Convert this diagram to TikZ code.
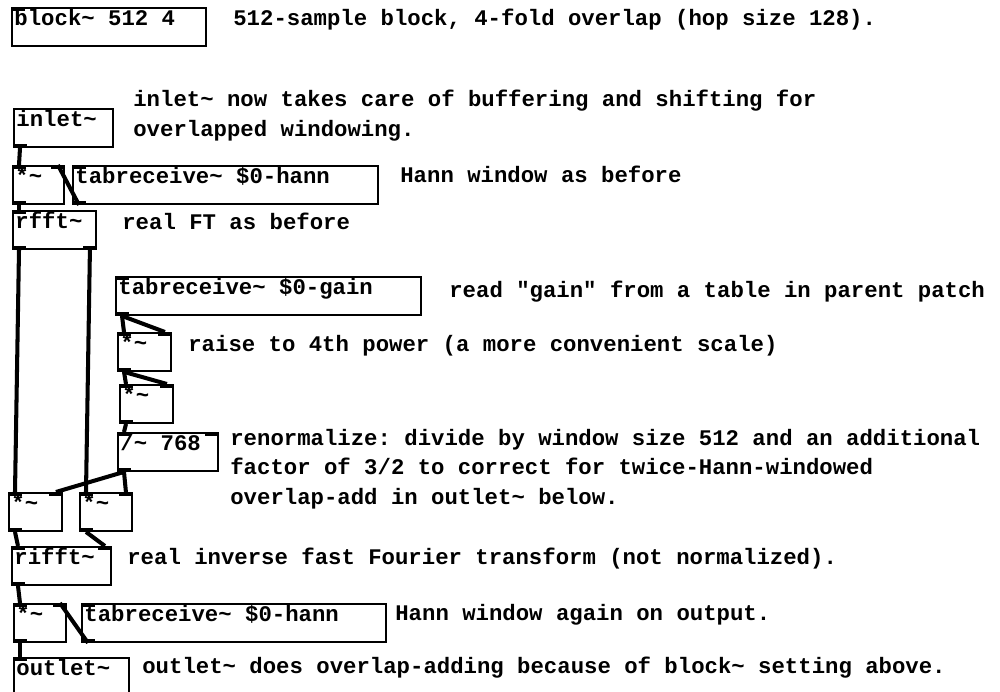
\documentclass[tikz,border=0pt]{standalone}
\usepackage{fontspec}
\newfontfamily\pdmono{Liberation Mono}
\newcommand{\pdfont}{\pdmono\bfseries\fontsize{12.7pt}{17.07pt}\selectfont\frenchspacing}

\begin{document}
\begin{tikzpicture}[x=0.02cm, y=-0.02cm,
        every node/.style={inner sep=0pt, font=\pdfont},
        obj/.style={draw, line width=1.1pt, anchor=north west, inner xsep=0.05cm, text width=#1, align=flush left, text height=0.36cm, text depth=0.40cm},
        note/.style={anchor=base west, text width=18cm, align=flush left},
        wire/.style={line width=2.3pt},
        iolet/.style={fill=black}
    ]
        \path[use as bounding box, fill=white] (0,0) rectangle (1000,692);
        \clip (0,0) rectangle (1000,692);

        \node[obj=3.78cm] (blk) at (11,7) {block\textasciitilde{} 512 4};
        \node[obj=1.88cm] (inl) at (13,108) {inlet\textasciitilde};
        \node[obj=0.92cm] (mulA) at (12,165) {*\textasciitilde};
        \node[obj=6.0cm] (hannA) at (72,165) {tabreceive\textasciitilde{} \$0-hann};
        \node[obj=1.56cm] (fft) at (12,210) {rfft\textasciitilde};
        \node[obj=6.0cm] (gain) at (115,276) {tabreceive\textasciitilde{} \$0-gain};
        \node[obj=0.96cm] (powA) at (117,332) {*\textasciitilde};
        \node[obj=0.96cm] (powB) at (119,384) {*\textasciitilde};
        \node[obj=1.9cm] (norm) at (117,432) {/\textasciitilde{} 768};
        \node[obj=0.96cm] (re) at (8,492) {*\textasciitilde};
        \node[obj=0.94cm] (im) at (79,492) {*\textasciitilde};
        \node[obj=1.88cm] (ifft) at (11,546) {rifft\textasciitilde};
        \node[obj=0.94cm] (mulB) at (13,603) {*\textasciitilde};
        \node[obj=5.98cm] (hannB) at (81,603) {tabreceive\textasciitilde{} \$0-hann};
        \node[obj=2.2cm] (out) at (13,657) {outlet\textasciitilde};

        \foreach \n in {blk,mulA,hannA,fft,gain,powA,powB,norm,re,im,ifft,mulB,hannB,out}
            \fill[iolet] (\n.north west) rectangle ++(14,4);
        \foreach \n in {inl,mulA,hannA,fft,gain,powA,powB,norm,re,im,ifft,mulB,hannB}
            \fill[iolet] (\n.south west) rectangle ++(14,-4);
        \foreach \n in {mulA,powA,powB,norm,re,im,ifft,mulB}
            \fill[iolet] (\n.north east) rectangle ++(-14,4);
        \fill[iolet] (fft.south east) rectangle ++(-14,-4);

        \draw[wire] ([xshift=0.14cm]inl.south west) -- ([xshift=0.14cm]mulA.north west);
        \draw[wire] ([xshift=0.14cm]hannA.south west) -- ([xshift=-0.14cm]mulA.north east);
        \draw[wire] ([xshift=0.14cm]mulA.south west) -- ([xshift=0.14cm]fft.north west);
        \draw[wire] ([xshift=0.14cm]fft.south west) -- ([xshift=0.14cm]re.north west);
        \draw[wire] ([xshift=-0.14cm]fft.south east) -- ([xshift=0.14cm]im.north west);
        \draw[wire] ([xshift=0.14cm]gain.south west) -- ([xshift=0.14cm]powA.north west);
        \draw[wire] ([xshift=0.14cm]gain.south west) -- ([xshift=-0.14cm]powA.north east);
        \draw[wire] ([xshift=0.14cm]powA.south west) -- ([xshift=0.14cm]powB.north west);
        \draw[wire] ([xshift=0.14cm]powA.south west) -- ([xshift=-0.14cm]powB.north east);
        \draw[wire] ([xshift=0.14cm]powB.south west) -- ([xshift=0.14cm]norm.north west);
        \draw[wire] ([xshift=0.14cm]norm.south west) -- ([xshift=-0.14cm]re.north east);
        \draw[wire] ([xshift=0.14cm]norm.south west) -- ([xshift=-0.14cm]im.north east);
        \draw[wire] ([xshift=0.14cm]re.south west) -- ([xshift=0.14cm]ifft.north west);
        \draw[wire] ([xshift=0.14cm]im.south west) -- ([xshift=-0.14cm]ifft.north east);
        \draw[wire] ([xshift=0.14cm]ifft.south west) -- ([xshift=0.14cm]mulB.north west);
        \draw[wire] ([xshift=0.14cm]hannB.south west) -- ([xshift=-0.14cm]mulB.north east);
        \draw[wire] ([xshift=0.14cm]mulB.south west) -- ([xshift=0.14cm]out.north west);

        \node[note] (blkNote) at (233,26) {512-sample block, 4-fold overlap (hop size 128).};
        \node[note] (inlNote) at (133,107) {inlet\textasciitilde{} now takes care of buffering and shifting for\\overlapped windowing.};
        \node[note] (hannNote) at (400,183) {Hann window as before};
        \node[note] (fftNote) at (122,230) {real FT as before};
        \node[note] (gainNote) at (449,297) {read "gain" from a table in parent patch};
        \node[note] (powNote) at (188,352) {raise to 4th power (a more convenient scale)};
        \node[note] (normNote) at (230,445) {renormalize: divide by window size 512 and an additional\\factor of 3/2 to correct for twice-Hann-windowed\\overlap-add in outlet\textasciitilde{} below.};
        \node[note] (ifftNote) at (127,564) {real inverse fast Fourier transform (not normalized).};
        \node[note] (outHannNote) at (395,620) {Hann window again on output.};
        \node[note] (outNote) at (142,673) {outlet\textasciitilde{} does overlap-adding because of block\textasciitilde{} setting above.};
\end{tikzpicture}
\end{document}
